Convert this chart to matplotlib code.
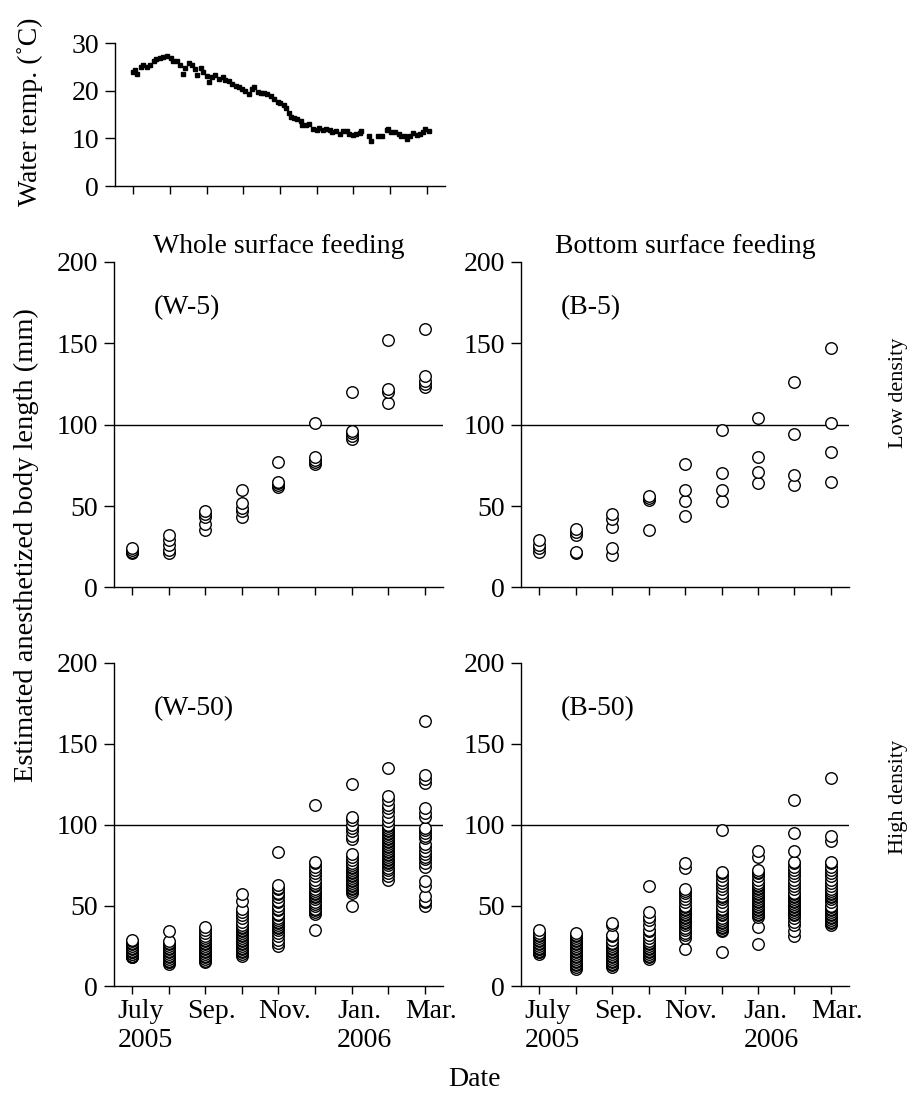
# Fish growth at two feeding methods and two densities, with water temperature
import numpy as np
import matplotlib
matplotlib.use('Agg')
import matplotlib.pyplot as plt
import matplotlib.transforms as mtransforms

plt.rcParams['font.family'] = ['Liberation Serif', 'DejaVu Serif']
plt.rcParams['font.size'] = 20

# Sampling months (tick positions 0..8) and their labels
month_labels = ["July\n2005", "", "Sep.", "", "Nov.", "", "Jan.\n2006", "", "Mar."]

# Water temperature: days after first sampling and temperature (C)
temp_day = [0, 1, 3, 6, 8, 11, 14, 17, 19, 22, 25, 28, 31, 33, 36, 39, 41, 43, 46, 49,
            51, 53, 56, 58, 61, 63, 65, 68, 71, 74, 76, 79, 82, 85, 88, 90, 93, 96, 98, 100,
            103, 106, 108, 111, 114, 117, 120, 122, 125, 127, 129, 131, 133, 136, 139, 140,
            143, 146, 149, 152, 154, 157, 160, 163, 165, 168, 171, 174, 177, 179, 182, 185,
            188, 189, 195, 197, 203, 206, 210, 211, 214, 217, 220, 222, 225, 227, 229, 232,
            235, 238, 240, 242, 245]
temp_c = [24.0, 24.3, 23.6, 25.0, 25.3, 25.0, 25.5, 26.2, 26.6, 26.8, 27.0, 27.3, 26.8, 26.3,
          26.2, 25.3, 23.5, 24.8, 25.8, 25.5, 24.5, 23.3, 24.8, 24.0, 23.0, 21.8, 22.8, 23.2,
          22.5, 22.8, 22.3, 22.0, 21.5, 21.0, 20.8, 20.3, 20.0, 19.3, 20.3, 20.8, 19.8, 19.6,
          19.5, 19.3, 18.8, 18.2, 17.7, 17.4, 17.0, 16.3, 15.3, 14.5, 14.2, 14.0, 13.6, 12.8,
          12.8, 13.0, 12.0, 11.8, 12.2, 11.7, 12.0, 11.8, 11.3, 11.6, 11.0, 11.5, 11.6, 11.0,
          10.8, 11.0, 11.2, 11.6, 10.5, 9.4, 10.5, 10.6, 11.8, 12.0, 11.4, 11.4, 11.0, 10.6,
          10.5, 9.9, 10.6, 11.2, 10.8, 11.0, 11.3, 12.0, 11.6]

# Body length (mm) per sampling month
w5 = [[21, 22, 22, 23, 24], [21, 23, 26, 29, 32], [35, 39, 43, 45, 47], [43, 47, 49, 52, 60],
      [62, 63, 64, 65, 77], [76, 77, 78, 80, 101], [91, 93, 95, 96, 120],
      [113, 120, 122, 152], [123, 125, 127, 130, 159]]
b5 = [[22, 24, 26, 29], [21, 22, 32, 34, 36], [20, 24, 37, 42, 45], [35, 54, 55, 56],
      [44, 53, 60, 76], [53, 60, 70, 97], [64, 71, 80, 104], [63, 69, 94, 126],
      [65, 83, 101, 147]]
w50 = [[18, 18, 19, 19, 20, 20, 21, 21, 22, 22, 23, 24, 25, 26, 27, 28, 29],
       [14, 15, 15, 16, 16, 17, 18, 19, 20, 21, 22, 23, 24, 25, 26, 27, 28, 34],
       [15, 16, 17, 18, 19, 20, 21, 22, 23, 24, 25, 26, 27, 28, 29, 30, 31, 33, 35, 37],
       [19, 20, 21, 22, 23, 24, 25, 26, 27, 28, 29, 30, 31, 32, 33, 34, 35, 36, 37, 38, 40,
        42, 44, 46, 48, 53, 57],
       [25, 27, 29, 31, 33, 35, 36, 37, 38, 39, 40, 41, 42, 44, 45, 47, 48, 50, 52, 53, 55,
        57, 58, 60, 61, 63, 83],
       [35, 45, 46, 47, 48, 50, 51, 52, 54, 55, 56, 57, 58, 59, 60, 62, 63, 64, 66, 68, 70,
        72, 74, 76, 77, 112],
       [50, 58, 59, 60, 61, 62, 63, 64, 65, 66, 67, 68, 69, 70, 71, 72, 73, 74, 75, 76, 78,
        80, 82, 91, 93, 96, 98, 100, 103, 105, 125],
       [66, 68, 70, 72, 73, 75, 76, 77, 78, 79, 80, 81, 82, 83, 84, 85, 86, 87, 88, 89, 90,
        91, 92, 93, 94, 95, 96, 97, 98, 99, 100, 102, 105, 108, 110, 112, 115, 118, 135],
       [50, 52, 53, 56, 62, 65, 74, 76, 79, 80, 82, 84, 86, 88, 92, 93, 95, 97, 98, 105,
        107, 110, 126, 128, 131, 164]]
b50 = [[20, 21, 21, 22, 23, 23, 24, 25, 26, 27, 28, 29, 30, 31, 32, 33, 35],
       [11, 12, 13, 14, 15, 16, 17, 18, 19, 20, 21, 22, 23, 24, 25, 26, 27, 28, 29, 30, 31,
        32, 33],
       [12, 13, 14, 15, 16, 17, 18, 19, 20, 21, 22, 23, 24, 25, 26, 27, 29, 31, 32, 38, 39],
       [17, 18, 19, 20, 21, 22, 23, 24, 25, 26, 27, 28, 30, 32, 34, 35, 38, 41, 43, 46, 62],
       [23, 30, 32, 33, 35, 36, 38, 39, 40, 41, 42, 43, 44, 45, 46, 47, 48, 49, 50, 52, 54,
        56, 58, 59, 60, 73, 76],
       [21, 34, 35, 36, 37, 38, 39, 40, 41, 42, 44, 45, 46, 47, 48, 50, 52, 54, 55, 56, 58,
        60, 62, 64, 66, 68, 70, 71, 97],
       [26, 37, 43, 44, 45, 46, 47, 48, 49, 50, 51, 52, 53, 54, 55, 56, 57, 58, 59, 60, 61,
        62, 63, 64, 66, 68, 70, 71, 72, 80, 84],
       [31, 34, 38, 40, 42, 44, 45, 46, 47, 48, 49, 50, 51, 52, 53, 54, 55, 56, 57, 58, 60,
        62, 64, 66, 68, 70, 72, 74, 76, 77, 84, 95, 115],
       [38, 39, 40, 41, 42, 43, 44, 45, 46, 47, 48, 49, 50, 52, 54, 55, 56, 57, 58, 59, 60,
        62, 64, 66, 68, 70, 72, 74, 76, 77, 90, 93, 129]]

fig = plt.figure(figsize=(9.19, 10.93), dpi=100)


def style_axis(ax, ymax, yticks):
    ax.spines['top'].set_visible(False)
    ax.spines['right'].set_visible(False)
    ax.spines['left'].set_bounds(0, ymax)
    for s in ('left', 'bottom'):
        ax.spines[s].set_linewidth(1.0)
    ax.set_xlim(-0.5, 8.5)
    ax.set_ylim(0, ymax)
    ax.set_xticks(range(9))
    ax.set_yticks(yticks)
    ax.tick_params(axis='y', direction='out', length=7.5, width=1.0, pad=4)
    ax.tick_params(axis='x', direction='out', length=6, width=1.0, pad=3)


def growth_panel(rect, data, tag, show_xlabels):
    ax = fig.add_axes(rect)
    style_axis(ax, 200, [0, 50, 100, 150, 200])
    ax.axhline(100, color='black', lw=1.0, zorder=1)
    for i, vals in enumerate(data):
        ax.plot(np.full(len(vals), i), vals, 'o', mfc='white', mec='black',
                ms=8.3, mew=1.0, linestyle='none', zorder=3, clip_on=False)
    ax.text(0.12, 0.86, tag, transform=ax.transAxes, ha='left', va='center')
    if show_xlabels:
        ax.set_xticklabels(month_labels, multialignment='left')
        for lab, txt in zip(ax.get_xticklabels(), month_labels):
            dx = 13 if '\n' in txt else 6
            lab.set_transform(lab.get_transform() +
                              mtransforms.ScaledTranslation(dx / 100, 0, fig.dpi_scale_trans))
    else:
        ax.set_xticklabels([])
    return ax


# Water temperature panel
ax_t = fig.add_axes([0.1251, 0.8298, 0.3591, 0.1308])
style_axis(ax_t, 30, [0, 10, 20, 30])
ax_t.set_xticklabels([])
ax_t.plot(np.array(temp_day) / 30.4, temp_c, 's', color='black', ms=2.8, linestyle='none')
fig.text(0.033, 1 - 112 / 1093, 'Water temp. (˚C)', rotation=90, ha='center', va='center')

ax_w5 = growth_panel([0.124, 0.4625, 0.358, 0.298], w5, '(W-5)', False)
ax_b5 = growth_panel([0.567, 0.4625, 0.357, 0.298], b5, '(B-5)', False)
ax_w50 = growth_panel([0.124, 0.0975, 0.358, 0.296], w50, '(W-50)', True)
ax_b50 = growth_panel([0.567, 0.0975, 0.357, 0.296], b50, '(B-50)', True)

ax_w5.set_title('Whole surface feeding', fontsize=20, pad=6)
ax_b5.set_title('Bottom surface feeding', fontsize=20, pad=6)

fig.text(0.029, 1 - 545 / 1093, 'Estimated anesthetized body length (mm)',
         rotation=90, ha='center', va='center', fontsize=20.5)
fig.text(0.978, 1 - 393 / 1093, 'Low density', rotation=90, ha='center', va='center',
         fontsize=16)
fig.text(0.978, 1 - 797 / 1093, 'High density', rotation=90, ha='center', va='center',
         fontsize=16)
fig.text(0.516, 1 - 1079 / 1093, 'Date', ha='center', va='center')

fig.savefig('out.png', dpi=100)
